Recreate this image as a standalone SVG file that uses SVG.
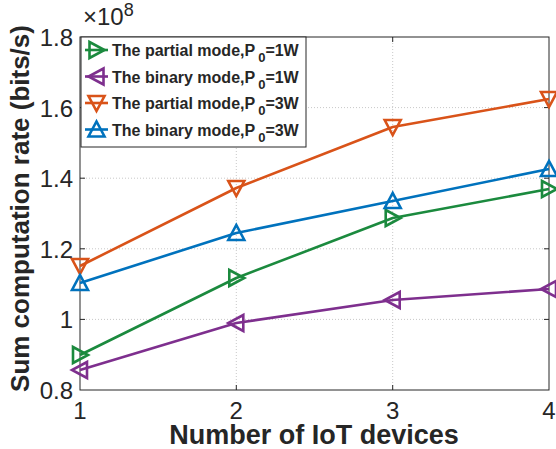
<svg xmlns="http://www.w3.org/2000/svg" width="556" height="449" viewBox="0 0 556 449">
  <style>
    .tick { font-family: "Liberation Sans", Arial, sans-serif; font-size: 24px; fill: #262626; }
    .lbl { font-family: "Liberation Sans", Arial, sans-serif; font-weight: bold; fill: #262626; }
    .leg { font-family: "Liberation Sans", Arial, sans-serif; font-weight: bold; font-size: 16px; fill: #262626; }
    .grid { stroke: #c8c8c8; stroke-width: 1; stroke-dasharray: 1 2; fill: none; }
    .axis { stroke: #262626; stroke-width: 1; fill: none; }
    .series { fill: none; stroke-width: 2.6; stroke-linejoin: round; }
    .mk { fill: none; stroke-width: 2.6; stroke-linejoin: miter; }
  </style>
  <defs>
    <path id="tri-r" d="M-7,-8 L-7,8 L8,0 Z"/>
    <path id="tri-l" d="M7,-8 L7,8 L-8,0 Z"/>
    <path id="tri-d" d="M-8,-7 L8,-7 L0,8 Z"/>
    <path id="tri-u" d="M-8,7 L8,7 L0,-8 Z"/>
  </defs>

  <rect x="0" y="0" width="556" height="449" fill="#ffffff"/>

  <!-- grid -->
  <g id="grid">
    <line class="grid" x1="236.3" y1="37" x2="236.3" y2="390"/>
    <line class="grid" x1="392.7" y1="37" x2="392.7" y2="390"/>
    <line class="grid" x1="80" y1="107.6" x2="549" y2="107.6"/>
    <line class="grid" x1="80" y1="178.2" x2="549" y2="178.2"/>
    <line class="grid" x1="80" y1="248.8" x2="549" y2="248.8"/>
    <line class="grid" x1="80" y1="319.4" x2="549" y2="319.4"/>
  </g>

  <!-- axes box and ticks -->
  <g id="axes">
    <rect class="axis" x="80" y="37" width="469" height="353"/>
    <path class="axis" d="M236.3,390 v-5 M392.7,390 v-5 M236.3,37 v5 M392.7,37 v5
      M80,107.6 h5 M80,178.2 h5 M80,248.8 h5 M80,319.4 h5
      M549,107.6 h-5 M549,178.2 h-5 M549,248.8 h-5 M549,319.4 h-5"/>
  </g>

  <!-- tick labels -->
  <g id="y-ticks" class="tick" text-anchor="end">
    <text x="73" y="46">1.8</text>
    <text x="73" y="116.5">1.6</text>
    <text x="73" y="187">1.4</text>
    <text x="73" y="257.5">1.2</text>
    <text x="73" y="328">1</text>
    <text x="73" y="398.5">0.8</text>
  </g>
  <g id="x-ticks" class="tick" text-anchor="middle">
    <text x="80" y="419">1</text>
    <text x="236.3" y="419">2</text>
    <text x="392.7" y="419">3</text>
    <text x="549" y="419">4</text>
  </g>
  <g id="exponent" class="tick">
    <text x="83" y="25">×10<tspan font-size="18" dy="-9">8</tspan></text>
  </g>

  <!-- axis labels -->
  <text class="lbl" x="314" y="444" font-size="27" text-anchor="middle">Number of IoT devices</text>
  <text class="lbl" font-size="26" text-anchor="middle" transform="translate(29,208.5) rotate(-90)">Sum computation rate (bits/s)</text>

  <!-- data series -->
  <g id="connectors">
    <polyline class="series" stroke="#1b8a3e" points="80,355 236.3,278 392.7,218 549,189"/>
    <polyline class="series" stroke="#7e2f8e" points="80,370 236.3,323 392.7,300 549,289"/>
    <polyline class="series" stroke="#d95319" points="80,266 236.3,188 392.7,127 549,99"/>
    <polyline class="series" stroke="#0072bd" points="80,283 236.3,233 392.7,201 549,169"/>
  </g>

  <g id="markers-partial-1w" class="mk" stroke="#1b8a3e">
    <use href="#tri-r" x="80" y="355"/>
    <use href="#tri-r" x="236.3" y="278"/>
    <use href="#tri-r" x="392.7" y="218"/>
    <use href="#tri-r" x="549" y="189"/>
  </g>
  <g id="markers-binary-1w" class="mk" stroke="#7e2f8e">
    <use href="#tri-l" x="80" y="370"/>
    <use href="#tri-l" x="236.3" y="323"/>
    <use href="#tri-l" x="392.7" y="300"/>
    <use href="#tri-l" x="549" y="289"/>
  </g>
  <g id="markers-partial-3w" class="mk" stroke="#d95319">
    <use href="#tri-d" x="80" y="266"/>
    <use href="#tri-d" x="236.3" y="188"/>
    <use href="#tri-d" x="392.7" y="127"/>
    <use href="#tri-d" x="549" y="99"/>
  </g>
  <g id="markers-binary-3w" class="mk" stroke="#0072bd">
    <use href="#tri-u" x="80" y="283"/>
    <use href="#tri-u" x="236.3" y="233"/>
    <use href="#tri-u" x="392.7" y="201"/>
    <use href="#tri-u" x="549" y="169"/>
  </g>

  <!-- legend -->
  <g id="legend">
    <rect x="81" y="37" width="225" height="110" fill="#ffffff" stroke="#262626" stroke-width="1"/>
    <g stroke="#1b8a3e">
      <line x1="85" y1="50" x2="108" y2="50" stroke-width="2.6"/>
      <use class="mk" href="#tri-r" x="96.5" y="50"/>
    </g>
    <g stroke="#7e2f8e">
      <line x1="85" y1="76.5" x2="108" y2="76.5" stroke-width="2.6"/>
      <use class="mk" href="#tri-l" x="96.5" y="76.5"/>
    </g>
    <g stroke="#d95319">
      <line x1="85" y1="103" x2="108" y2="103" stroke-width="2.6"/>
      <use class="mk" href="#tri-d" x="96.5" y="103"/>
    </g>
    <g stroke="#0072bd">
      <line x1="85" y1="129.5" x2="108" y2="129.5" stroke-width="2.6"/>
      <use class="mk" href="#tri-u" x="96.5" y="129.5"/>
    </g>
    <text class="leg" x="112" y="56">The partial mode,P<tspan dx="3" dy="6" font-size="13">0</tspan><tspan dy="-6">=1W</tspan></text>
    <text class="leg" x="112" y="82.5">The binary mode,P<tspan dx="3" dy="6" font-size="13">0</tspan><tspan dy="-6">=1W</tspan></text>
    <text class="leg" x="112" y="109">The partial mode,P<tspan dx="3" dy="6" font-size="13">0</tspan><tspan dy="-6">=3W</tspan></text>
    <text class="leg" x="112" y="135.5">The binary mode,P<tspan dx="3" dy="6" font-size="13">0</tspan><tspan dy="-6">=3W</tspan></text>
  </g>
</svg>
